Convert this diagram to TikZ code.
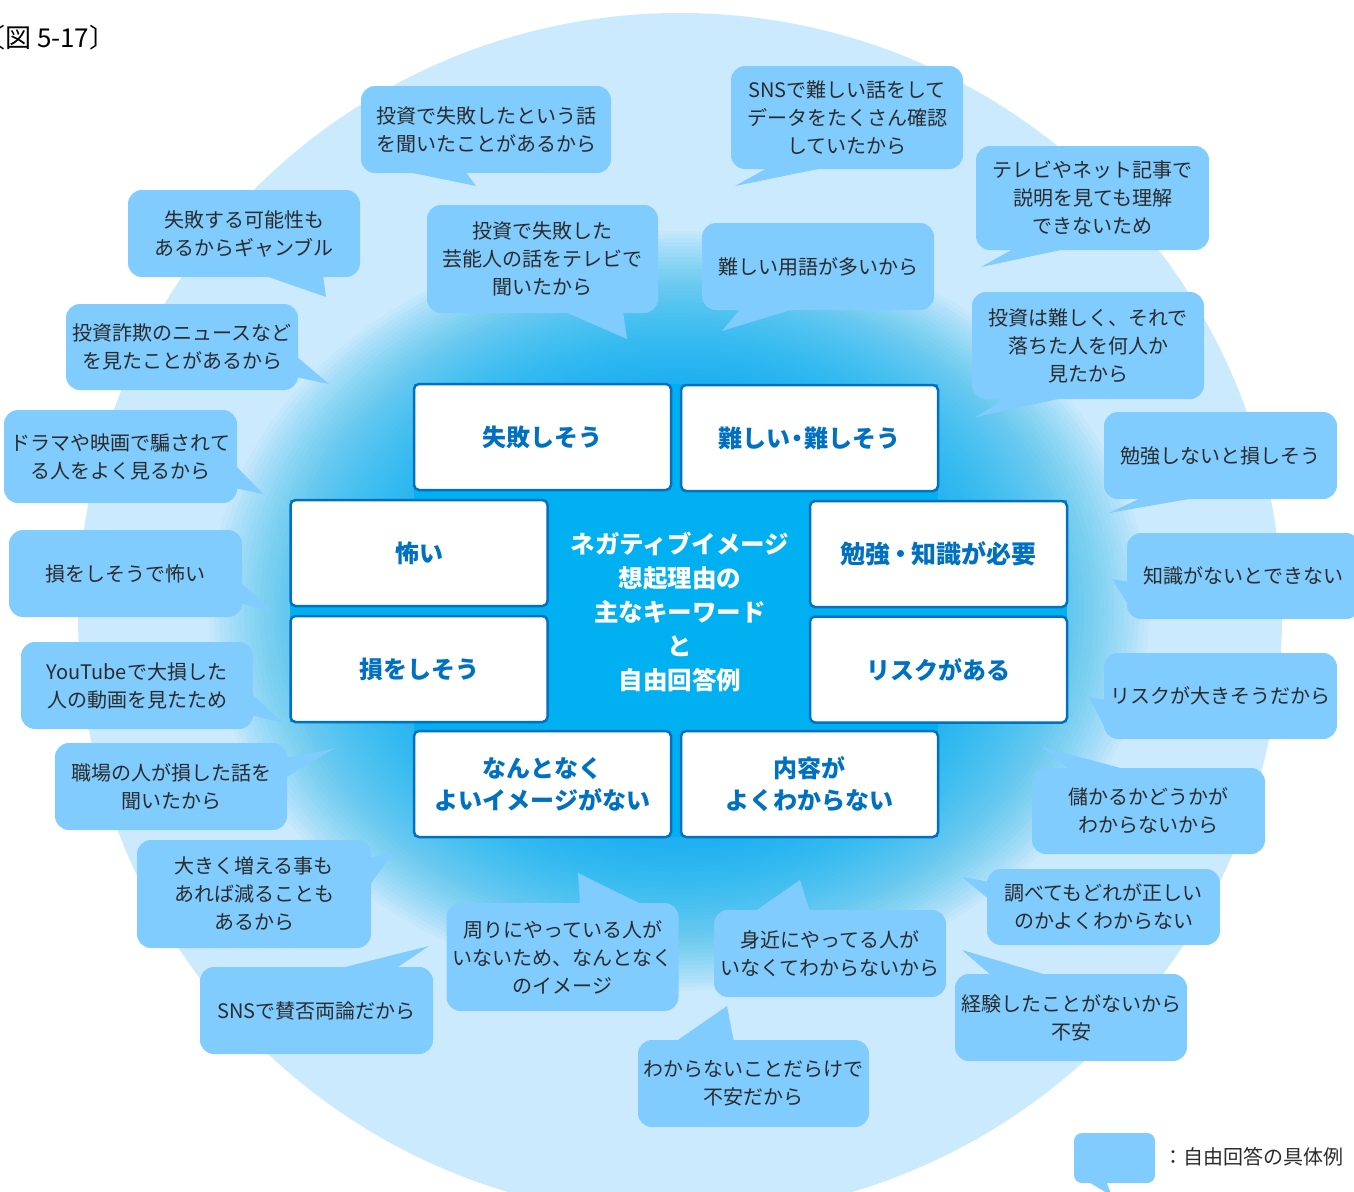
\documentclass[tikz,border=0pt]{standalone}
\usepackage{fontspec}
\setmainfont{Noto Sans CJK JP}
\definecolor{bgC}{HTML}{CCEAFD}
\definecolor{bubC}{HTML}{80CCFF}
\definecolor{cyanC}{HTML}{00B0F0}
\definecolor{kwC}{HTML}{0070C0}
\definecolor{txtC}{HTML}{2B2B2B}
\begin{document}
\begin{tikzpicture}[x=1pt,y=-1pt,
  bub/.style={fill=bubC, rounded corners=14pt, text=txtC, font=\fontsize{20}{28}\selectfont, align=center, inner sep=0pt, minimum width=232pt, minimum height=87pt},
  tail/.style={fill=bubC},
  kw/.style={draw=kwC, line width=2.5pt, fill=white, rounded corners=5pt, minimum width=257pt, minimum height=106pt, text=kwC, font=\fontsize{24}{32}\selectfont\bfseries, align=center, inner sep=0pt},
  ctr/.style={text=white, font=\fontsize{24.5}{34}\selectfont\bfseries, align=center, inner sep=0pt},
  note/.style={text=txtC, inner sep=0pt},
  glowlayer/.style={fill=cyanC, fill opacity=0.04}
]
\useasboundingbox (0,0) rectangle (1354,1191);
\begin{scope}
\clip (0,0) rectangle (1354,1191);
% background disc and central glow
\fill[bgC] (680,615) circle[radius=602];
\foreach \i in {0,...,59}{
  \fill[glowlayer] (679,611) ellipse[x radius={470-5*\i}, y radius={380-3.75*\i}];
}
\fill[cyanC] (414,384) rectangle (938,837);
\fill[cyanC] (290,500) rectangle (1067,722);

% title
\node[note, anchor=west, text=black, font=\fontsize{26}{30}\selectfont] (title) at (-21,38) {〔図 5-17〕};

% keyword boxes
\node[kw] (k1) at (542.5,437) {失敗しそう};
\node[kw] (k2) at (809.5,438) {難しい\kern-5pt・\kern-5pt難しそう};
\node[kw, font=\fontsize{25}{32}\selectfont\bfseries] (k4) at (938.5,554) {勉強\kern-2pt・\kern-2pt知識が必要};
\node[kw] (k3) at (419,553) {怖い};
\node[kw] (k5) at (419,669) {損をしそう};
\node[kw] (k6) at (938.5,669.5) {リスクがある};
\node[kw] (k7) at (542.5,784) {なんとなく\\よいイメージがない};
\node[kw] (k8) at (809.5,784) {内容が\\よくわからない};
\node[ctr] (center) at (680,612) {ネガティブイメージ\\想起理由の\\主なキーワード\\と\\自由回答例};

% speech bubbles
\node[bub, minimum width=250pt] (b1) at (486,129.5) {投資で失敗したという話\\を聞いたことがあるから};
\coordinate (t1) at (476,186);
\fill[tail] (403,171) -- (t1) -- (465,171) -- cycle;

\node[bub, minimum height=103pt] (b2) at (847,117.5) {SNSで難しい話をして\\データをたくさん確認\\していたから};
\coordinate (t2) at (735,186);
\fill[tail] (769,167) -- (t2) -- (828,167) -- cycle;

\node[bub, minimum width=233pt, minimum height=104pt] (b3) at (1092.5,198) {テレビやネット記事で\\説明を見ても理解\\できないため};
\coordinate (t3) at (981,267);
\fill[tail] (1015,248) -- (t3) -- (1070,248) -- cycle;

\node[bub] (b4) at (244,233.5) {失敗する可能性も\\あるからギャンブル};
\coordinate (t4) at (326,297);
\fill[tail] (263,275) -- (t4) -- (323,275) -- cycle;

\node[bub, minimum width=231pt, minimum height=108pt] (b5) at (542.5,259) {投資で失敗した\\芸能人の話をテレビで\\聞いたから};
\coordinate (t5) at (627,339);
\fill[tail] (563,311) -- (t5) -- (623,311) -- cycle;

\node[bub] (b6) at (818,266.5) {難しい用語が多いから};
\coordinate (t6) at (722,331);
\fill[tail] (741,308) -- (t6) -- (797,308) -- cycle;

\node[bub, minimum height=107pt] (b7) at (1088,345.5) {投資は難しく、それで\\落ちた人を何人か\\見たから};
\coordinate (t7) at (976,417);
\fill[tail] (1008,397) -- (t7) -- (1067,397) -- cycle;

\node[bub, minimum height=86pt] (b8) at (182,347) {投資詐欺のニュースなど\\を見たことがあるから};
\coordinate (t8) at (329,384);
\fill[tail] (296,356) -- (t8) -- (296,377) -- cycle;

\node[bub, minimum width=233pt, minimum height=93pt] (b9) at (120.5,456.5) {ドラマや映画で騙されて\\る人をよく見るから};
\coordinate (t9) at (263,494);
\fill[tail] (235,465) -- (t9) -- (235,488) -- cycle;

\node[bub, minimum width=233pt] (b10) at (125.5,573.5) {損をしそうで怖い};
\coordinate (t10) at (272,611);
\fill[tail] (240,582) -- (t10) -- (240,603) -- cycle;

\node[bub] (b11) at (137,685.5) {YouTubeで大損した\\人の動画を見たため};
\coordinate (t11) at (283,723);
\fill[tail] (251,693) -- (t11) -- (251,715) -- cycle;

\node[bub] (b12) at (171,786.5) {職場の人が損した話を\\聞いたから};
\coordinate (t12) at (333,749);
\fill[tail] (285,758) -- (t12) -- (285,778) -- cycle;

\node[bub, minimum width=234pt, minimum height=108pt] (b13) at (254,894) {大きく増える事も\\あれば減ることも\\あるから};
\coordinate (t13) at (394,852);
\fill[tail] (369,858) -- (t13) -- (371,883) -- cycle;

\node[bub, minimum width=233pt] (b14) at (316.5,1010.5) {SNSで賛否両論だから};
\coordinate (t14) at (429,946);
\fill[tail] (337,969) -- (t14) -- (395,969) -- cycle;

\node[bub, minimum width=232pt, minimum height=108pt] (b15) at (562.5,957) {周りにやっている人が\\いないため、なんとなく\\のイメージ};
\coordinate (t15) at (578,873);
\fill[tail] (580,905) -- (t15) -- (643,905) -- cycle;

\node[bub] (b16) at (830,953.5) {身近にやってる人が\\いなくてわからないから};
\coordinate (t16) at (800,880);
\fill[tail] (754,912) -- (t16) -- (810,912) -- cycle;

\node[bub, minimum width=231pt] (b17) at (753.5,1083.5) {わからないことだらけで\\不安だから};
\coordinate (t17) at (727,1006);
\fill[tail] (675,1042) -- (t17) -- (734,1042) -- cycle;

\node[bub, minimum width=233pt, minimum height=76pt] (b18) at (1103.5,907) {調べてもどれが正しい\\のかよくわからない};
\coordinate (t18) at (962,877);
\fill[tail] (990,882) -- (t18) -- (990,900) -- cycle;

\node[bub] (b19) at (1071,1017.5) {経験したことがないから\\不安};
\coordinate (t19) at (962,950);
\fill[tail] (992,976) -- (t19) -- (1050,976) -- cycle;

\node[bub, minimum width=233pt, minimum height=86pt] (b20) at (1148.5,811) {儲かるかどうかが\\わからないから};
\coordinate (t20) at (1042,747);
\fill[tail] (1070,770) -- (t20) -- (1128,770) -- cycle;

\node[bub, minimum width=233pt, minimum height=86pt] (b21) at (1220.5,696) {リスクが大きそうだから};
\coordinate (t21) at (1089,697);
\fill[tail] (1106,700) -- (t21) -- (1106,730) -- cycle;

\node[bub, minimum width=233pt, minimum height=86pt] (b22) at (1243.5,576) {知識がないとできない};
\coordinate (t22) at (1112,579);
\fill[tail] (1129,582) -- (t22) -- (1129,606) -- cycle;

\node[bub, minimum width=233pt] (b23) at (1220.5,455.5) {勉強しないと損しそう};
\coordinate (t23) at (1109,513);
\fill[tail] (1143,497) -- (t23) -- (1200,497) -- cycle;

% legend
\node[bub, minimum width=81pt, minimum height=50pt, rounded corners=8pt] (leg) at (1114.5,1158) {};
\coordinate (tleg) at (1112,1196);
\fill[tail] (1087,1181) -- (tleg) -- (1106,1181) -- cycle;
\node[note, anchor=west, font=\fontsize{20}{24}\selectfont] (legtext) at (1163,1157) {：自由回答の具体例};
\end{scope}
\end{tikzpicture}
\end{document}
